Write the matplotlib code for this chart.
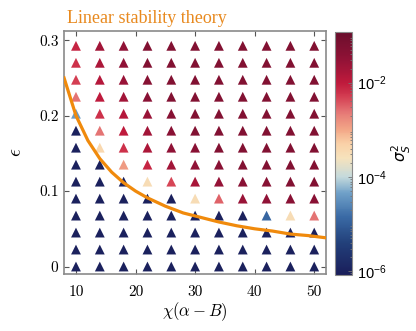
import numpy as np
import matplotlib
matplotlib.use("Agg")
import matplotlib.pyplot as plt
from matplotlib.colors import LinearSegmentedColormap, LogNorm

plt.rcParams["mathtext.fontset"] = "cm"

# grid of parameter values
chi = [10, 14, 18, 22, 26, 30, 34, 38, 42, 46, 50]
eps = [0, 0.0225, 0.045, 0.0675, 0.09, 0.1125, 0.135, 0.1575,
       0.18, 0.2025, 0.225, 0.2475, 0.27, 0.2925]

# log10(sigma_S^2), one row per eps value (bottom to top)
log_var = [
    [-6, -6, -6, -6, -6, -6, -6, -6, -6, -6, -6],
    [-6, -6, -6, -6, -6, -6, -6, -6, -6, -6, -6],
    [-6, -6, -6, -6, -6, -6, -6, -6, -6, -6, -6],
    [-6, -6, -6, -6, -6, -6, -6, -6, -4.9, -3.5, -2.6],
    [-6, -6, -6, -6, -6, -3.5, -2.5, -1.6, -1.5, -1.4, -1.4],
    [-6, -6, -6, -3.5, -2.35, -1.75, -1.55, -1.4, -1.35, -1.3, -1.3],
    [-6, -6, -2.9, -2.1, -1.7, -1.5, -1.4, -1.3, -1.3, -1.3, -1.3],
    [-6, -3.4, -2.2, -1.8, -1.5, -1.4, -1.3, -1.3, -1.3, -1.3, -1.3],
    [-6, -2.6, -2.0, -1.7, -1.4, -1.3, -1.3, -1.3, -1.3, -1.3, -1.3],
    [-4.4, -2.2, -1.9, -1.6, -1.35, -1.3, -1.3, -1.3, -1.3, -1.3, -1.3],
    [-2.6, -2.0, -1.7, -1.4, -1.3, -1.3, -1.3, -1.3, -1.3, -1.3, -1.3],
    [-2.3, -1.9, -1.6, -1.35, -1.3, -1.3, -1.3, -1.3, -1.3, -1.3, -1.3],
    [-2.2, -1.8, -1.5, -1.3, -1.3, -1.3, -1.3, -1.3, -1.3, -1.3, -1.3],
    [-2.1, -1.7, -1.5, -1.3, -1.3, -1.3, -1.3, -1.3, -1.3, -1.3, -1.3],
]

# linear stability boundary
theory_chi = [8, 10, 12, 14, 16, 18, 20, 22, 25, 28, 31, 34, 37, 40, 43, 46, 49, 52]
theory_eps = [0.250, 0.200, 0.167, 0.143, 0.125, 0.111, 0.100, 0.091, 0.080,
              0.071, 0.065, 0.059, 0.054, 0.050, 0.047, 0.043, 0.041, 0.038]

vmin_exp, vmax_exp = -6.08, -0.92
stops = [
    (-6.08, "#1a1e5a"), (-5.4, "#22407a"), (-4.85, "#3a6aa5"),
    (-4.35, "#6fa0c8"), (-4.0, "#c5dadc"), (-3.6, "#f6e2bc"),
    (-3.3, "#fad2a8"), (-3.0, "#f3a888"), (-2.6, "#e47474"),
    (-2.3, "#d43e52"), (-2.0, "#bf1a3c"), (-1.5, "#911236"),
    (-0.92, "#6a0e2c"),
]
cmap = LinearSegmentedColormap.from_list(
    "rb", [((e - vmin_exp) / (vmax_exp - vmin_exp), c) for e, c in stops])
norm = LogNorm(vmin=10 ** vmin_exp, vmax=10 ** vmax_exp)

X, Y = np.meshgrid(chi, eps)
C = 10.0 ** np.array(log_var)

fig = plt.figure(figsize=(4.16, 3.31), dpi=100)
ax = fig.add_axes([0.154, 0.172, 0.63, 0.734])

sc = ax.scatter(X.ravel(), Y.ravel(), c=C.ravel(), cmap=cmap, norm=norm,
                marker="^", s=50, linewidths=0, zorder=2)
ax.plot(theory_chi, theory_eps, color="#f08a0c", lw=2.3, zorder=3)

ax.set_xlim(8, 52)
ax.set_ylim(-0.01, 0.312)
ax.set_xticks([10, 20, 30, 40, 50])
ax.set_xticklabels(["10", "20", "30", "40", "50"], family="cmr10", fontsize=11)
ax.set_yticks([0, 0.1, 0.2, 0.3])
ax.set_yticklabels(["0", "0.1", "0.2", "0.3"], family="cmr10", fontsize=11)
ax.tick_params(direction="in", top=True, right=True, length=3.5,
               width=0.8, color="#555555")
ax.tick_params(axis="x", pad=8)
ax.tick_params(axis="y", pad=4)
for sp in ax.spines.values():
    sp.set_color("#8a8a8a")
    sp.set_linewidth(1.2)

ax.set_xlabel(r"$\chi(\alpha - B)$", fontsize=12, labelpad=1)
ax.set_ylabel(r"$\epsilon$", fontsize=14, labelpad=10)

ax.text(0.01, 1.015, "Linear stability theory", transform=ax.transAxes,
        color="#e8891e", fontsize=13, family="Liberation Serif",
        ha="left", va="bottom")

cax = fig.add_axes([0.805, 0.169, 0.041, 0.735])
cb = fig.colorbar(sc, cax=cax)
cb.set_ticks([1e-6, 1e-4, 1e-2])
cb.set_ticklabels([r"$\mathregular{10^{-6}}$", r"$\mathregular{10^{-4}}$",
                   r"$\mathregular{10^{-2}}$"])
for t in cax.get_yticklabels():
    t.set_family("Liberation Sans")
    t.set_fontsize(10.5)
cax.tick_params(which="both", direction="in", color="#777777", width=0.6)
cax.tick_params(which="major", length=3)
cax.tick_params(which="minor", length=1.5)
cb.outline.set_edgecolor("#8a8a8a")
cb.outline.set_linewidth(0.8)
cb.set_label(r"$\sigma_S^2$", fontsize=11, labelpad=2)
cb.ax.yaxis.label.set_math_fontfamily("dejavusans")

fig.savefig("out.png", dpi=100)
